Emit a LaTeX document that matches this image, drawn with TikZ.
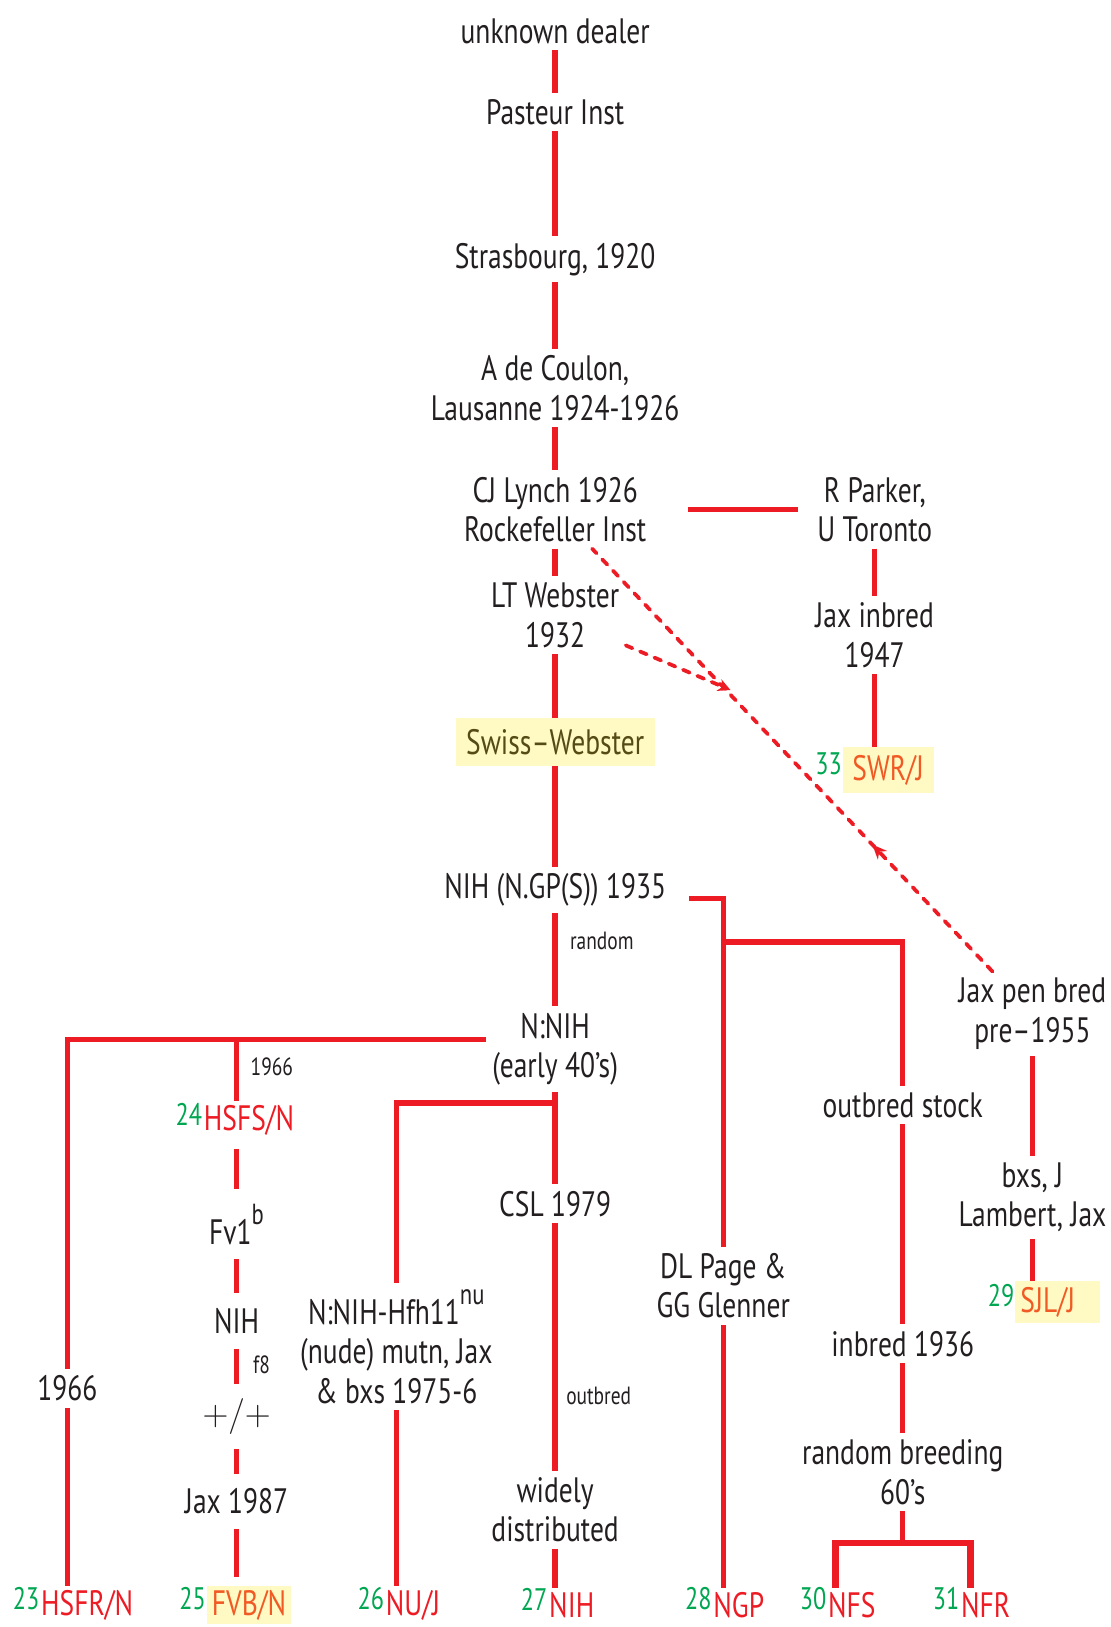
\documentclass[tikz,border=0pt]{standalone}
\usepackage{fontspec}
\setmainfont{PT Sans}[FakeStretch=0.78]
\usepackage{tikz}
\usetikzlibrary{arrows.meta,decorations.markings,calc,positioning}
\definecolor{lineRed}{RGB}{237,28,36}
\definecolor{numGreen}{RGB}{0,166,81}
\definecolor{strainOrange}{RGB}{241,90,36}
\definecolor{hiYellow}{RGB}{255,249,196}
\definecolor{txtGray}{RGB}{35,31,32}
\definecolor{swissText}{RGB}{85,75,20}
\tikzstyle{stock} =[align=center, text=txtGray, inner sep=3pt,
                    font=\fontsize{17}{19}\selectfont]
\tikzstyle{note}  =[text=txtGray, inner sep=1pt,
                    font=\fontsize{12}{14}\selectfont]
\tikzstyle{strain}=[text=lineRed, inner xsep=0.5pt, inner ysep=2pt,
                    font=\fontsize{17}{19}\selectfont]
\tikzstyle{hilite}=[fill=hiYellow, text=strainOrange, inner xsep=2.5pt]
\tikzstyle{num}   =[text=numGreen, inner sep=0pt, anchor=south east,
                    yshift=-2.5pt, font=\fontsize{15}{17}\selectfont]
\tikzstyle{link}  =[draw=lineRed, line width=2.6pt]
\tikzstyle{gaplink}=[draw=lineRed, line width=2.6pt,
                    shorten <=4pt, shorten >=4pt]
\tikzstyle{dotlink}=[draw=lineRed, line width=1.8pt, line cap=round,
                    dash pattern=on 3.5pt off 4pt]
\newcommand{\supr}[1]{\raisebox{1.1ex}{\fontsize{14}{14}\selectfont #1}}

\begin{document}
\begin{tikzpicture}[x=0.5pt,y=-0.5pt]
\useasboundingbox (0,0) rectangle (1070,1568);
%%%%%%%%%%%%%%%%%%%%%%%%%%%%%%%%%%%%%%%%%%%%%%%%
%%%%%%%%%%         Main line          %%%%%%%%%%
%%%%%%%%%%%%%%%%%%%%%%%%%%%%%%%%%%%%%%%%%%%%%%%%
\node (dealer)  [stock] at (535,30){unknown dealer};
\node (pasteur) [stock] at (535,108){Pasteur Inst};
\node (strasb)  [stock] at (535,250){Strasbourg, 1920};
\node (coulon)  [stock] at (535,374){A de Coulon,\\Lausanne 1924-1926};
\node (lynch)   [stock] at (535,491){CJ Lynch 1926\\Rockefeller Inst};
\node (webster) [stock] at (535,593){LT Webster\\1932};
\node (swiss)   [stock,fill=hiYellow,text=swissText,minimum width=96pt,
                 minimum height=23pt] at (535,715){Swiss–Webster};
\node (nihgp)   [stock] at (535,858){NIH (N.GP(S)) 1935};
\node (nnih)    [stock] at (535,1011){N:NIH\\(early 40’s)};
\node (csl)     [stock] at (535,1160){CSL 1979};
\node (widely)  [stock] at (535,1455){widely\\distributed};
\node (rand)    [note]  at (580,907){random};
\node (outb)    [note]  at (577,1345){outbred};

\foreach \a/\b in {dealer/pasteur,pasteur/strasb,strasb/coulon,coulon/lynch,
                   lynch/webster,webster/swiss,swiss/nihgp,nihgp/nnih,
                   nnih/csl,csl/widely}
	\draw [link] (\a) -- (\b);

%%%%%%%%%%%%%%%%%%%%%%%%%%%%%%%%%%%%%%%%%%%%%%%%
%%%%%%%%%%       Bottom strains       %%%%%%%%%%
%%%%%%%%%%%%%%%%%%%%%%%%%%%%%%%%%%%%%%%%%%%%%%%%
\foreach \n/\name/\x in {23/{HSFR/N}/84,26/{NU/J}/398,27/NIH/551,
                         28/NGP/712,30/NFS/821,31/NFR/950}
	\node (s\n) [strain,label={[num]west:\n}] at (\x,1547){\name};
\node (s25) [strain,hilite,label={[num]west:25}] at (240,1547){FVB/N};

%%%%%%%%%%%%%%%%%%%%%%%%%%%%%%%%%%%%%%%%%%%%%%%%
%%%%%%%%%%        Parker branch       %%%%%%%%%%
%%%%%%%%%%%%%%%%%%%%%%%%%%%%%%%%%%%%%%%%%%%%%%%%
\node (parker) [stock] at (843,491){R Parker,\\U Toronto};
\node (jaxinb) [stock] at (843,612){Jax inbred\\1947};
\node (swr) [strain,hilite,minimum width=44pt,minimum height=22pt,
             label={[num]west:33}] at (856,742){SWR/J};

\draw [link,shorten <=17pt,shorten >=6pt] (lynch) -- (parker);
\draw [link] (parker) -- (jaxinb);
\draw [link] (jaxinb) -- (jaxinb |- swr.north);

%%%%%%%%%%%%%%%%%%%%%%%%%%%%%%%%%%%%%%%%%%%%%%%%
%%%%%%%%%%       Jax pen branch       %%%%%%%%%%
%%%%%%%%%%%%%%%%%%%%%%%%%%%%%%%%%%%%%%%%%%%%%%%%
\node (jaxpen)  [stock] at (995,977){Jax pen bred\\pre–1955};
\node (lambert) [stock] at (995,1154){bxs, J\\Lambert, Jax};
\node (sjl) [strain,hilite,anchor=west,text width=36pt,align=left,
             minimum height=20pt,label={[num]west:29}] at (978,1255){SJL/J};
\coordinate (merge) at (704,665);

\draw [link] (jaxpen) -- (lambert);
\draw [link] (lambert) -- (lambert |- sjl.north);
\draw [dotlink,postaction={decorate},decoration={markings,
       mark=at position 0.3 with {\arrow{Stealth[length=7pt,width=6pt]}}}]
      (jaxpen) -- (lynch);
\draw [dotlink,-{Stealth[length=6pt,width=6pt]}] (webster) -- (merge);

%%%%%%%%%%%%%%%%%%%%%%%%%%%%%%%%%%%%%%%%%%%%%%%%
%%%%%%%%%%        NIH branches        %%%%%%%%%%
%%%%%%%%%%%%%%%%%%%%%%%%%%%%%%%%%%%%%%%%%%%%%%%%
\node (page)    [stock] at (697,1239){DL Page \&\\GG Glenner};
\node (outbred) [stock] at (870,1065){outbred stock};
\node (inbred)  [stock] at (870,1295){inbred 1936};
\node (randbr)  [stock] at (870,1419){random breeding\\60’s};
\coordinate (fork) at (697,908);
\coordinate (bkt)  at (870,1487);

\draw [link] ([xshift=8pt,yshift=-4pt]nihgp.east) -| (page);
\draw [link] (page) -- (page |- s28.north);
\draw [link] (fork) -| (outbred);
\draw [link] (outbred) -- (inbred);
\draw [link] (inbred) -- (randbr);
\draw [link] (randbr) -- (bkt);
\draw [link,line width=3.2pt] ([xshift=-8pt]s30.north) |- (bkt)
      -| ([xshift=-7.5pt]s31.north);

%%%%%%%%%%%%%%%%%%%%%%%%%%%%%%%%%%%%%%%%%%%%%%%%
%%%%%%%%%%        N:NIH branches      %%%%%%%%%%
%%%%%%%%%%%%%%%%%%%%%%%%%%%%%%%%%%%%%%%%%%%%%%%%
\node (d1966) [stock] at (65,1338){1966};
\node (n1966) [note]  at (262,1028){1966};
\node (s24) [strain,label={[num]west:24}] at (240,1080){HSFS/N};
\node (fv1)   [stock] at (228,1180){Fv1\supr{b}};
\node (nihf)  [stock] at (228,1273){NIH};
\node (f8)    [note]  at (252,1315){f8};
\node (plus)  [stock] at (228,1365){$+/+$};
\node (jax87) [stock] at (228,1447){Jax 1987};
\node (nude)  [stock] at (382,1298){N:NIH-Hfh11\supr{nu}\\(nude) mutn, Jax\\\& bxs 1975-6};
\coordinate (b24) at (228,1002);
\coordinate (b26) at (535,1063);

\draw [link] ([yshift=4.5pt]nnih.west) -| (d1966);
\draw [link] (d1966) -- (d1966 |- s23.north);
\draw [link] (b24) -- (b24 |- s24.north);
\draw [gaplink] (fv1 |- s24.south) -- (fv1);
\foreach \a/\b in {fv1/nihf,nihf/plus,plus/jax87}
	\draw [gaplink] (\a) -- (\b);
\draw [gaplink] (jax87) -- (jax87 |- s25.north);
\draw [link] (b26) -| (nude);
\draw [link] (nude) -- (nude |- s26.north);
\draw [link] (widely) -- (widely |- s27.north);

\end{tikzpicture}
\end{document}
